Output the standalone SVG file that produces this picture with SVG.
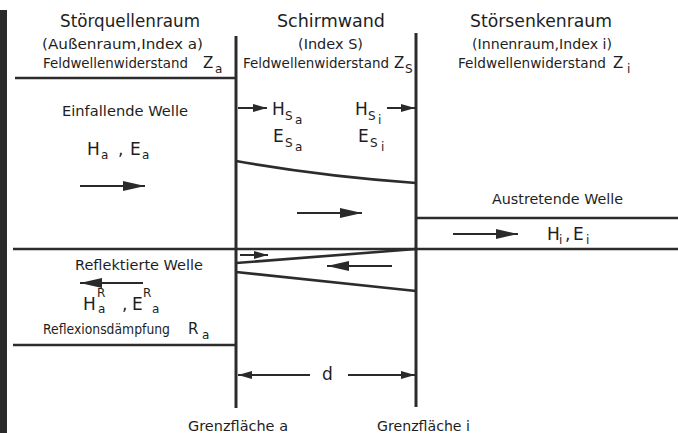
<svg xmlns="http://www.w3.org/2000/svg" width="678" height="433" viewBox="0 0 678 433">
<defs>
<marker id="big" markerUnits="userSpaceOnUse" viewBox="0 0 22 10" refX="22" refY="5" markerWidth="22" markerHeight="10" orient="auto"><path d="M0,0 L22,5 L0,10 Z" fill="#2a2a2a"/></marker>
<marker id="med" markerUnits="userSpaceOnUse" viewBox="0 0 14 8" refX="14" refY="4" markerWidth="14" markerHeight="8" orient="auto"><path d="M0,0 L14,4 L0,8 Z" fill="#2a2a2a"/></marker>
</defs>
<style>
text{font-family:"DejaVu Sans","Liberation Sans",sans-serif;fill:#1e1e1e}
.t{font-size:17px}
.s{font-size:14.5px}
.f{font-size:13.6px}
.z{font-size:15px}
.r{font-size:13.4px}
.v{font-size:17px}
.sub{font-size:12px}
.ln{stroke:#2c2c2c;stroke-width:2.6;fill:none}
.wl{stroke:#2c2c2c;stroke-width:3;fill:none}
.ar{stroke:#2a2a2a;stroke-width:2;fill:none}
</style>
<rect width="678" height="433" fill="#ffffff"/>
<rect x="0" y="10" width="7" height="423" fill="#2a2a2a"/>

<g id="stoerquellenraum">
<path class="ln" d="M15 78 H236 M13 345 H236"/>
<text class="t" x="60" y="27" textLength="140" lengthAdjust="spacingAndGlyphs">Störquellenraum</text>
<text class="s" x="42" y="49" textLength="161" lengthAdjust="spacingAndGlyphs">(Außenraum,Index a)</text>
<text class="f" x="43" y="68" textLength="145" lengthAdjust="spacingAndGlyphs">Feldwellenwiderstand</text>
<text class="z" x="203" y="68">Z</text><text class="sub" x="215" y="73">a</text>
<text class="s" x="62" y="116" textLength="126" lengthAdjust="spacingAndGlyphs">Einfallende Welle</text>
<text class="v" x="87" y="155">H</text><text class="sub" x="101" y="159">a</text>
<text class="v" x="118" y="155">,</text>
<text class="v" x="130" y="155">E</text><text class="sub" x="142" y="159">a</text>
<text class="s" x="75" y="270" textLength="128" lengthAdjust="spacingAndGlyphs">Reflektierte Welle</text>
<text class="v" x="83" y="310">H</text><text class="sub" x="97" y="297">R</text><text class="sub" x="98" y="313">a</text>
<text class="v" x="122" y="310">,</text>
<text class="v" x="132" y="310">E</text><text class="sub" x="143" y="297">R</text><text class="sub" x="152" y="313">a</text>
<text class="r" x="43" y="334" textLength="127" lengthAdjust="spacingAndGlyphs">Reflexionsdämpfung</text>
<text class="z" x="188" y="334">R</text><text class="sub" x="202" y="339">a</text>
</g>

<g id="schirmwand">
<path class="wl" d="M236 36 V408 M416 33 V407"/>
<path class="ln" d="M236 161 Q320 176 416 183"/>
<path class="ln" d="M236 263 L416 249 M236 272 L416 291"/>
<text class="t" x="277" y="27" textLength="108" lengthAdjust="spacingAndGlyphs">Schirmwand</text>
<text class="s" x="298" y="49" textLength="65" lengthAdjust="spacingAndGlyphs">(Index S)</text>
<text class="f" x="243" y="68" textLength="146" lengthAdjust="spacingAndGlyphs">Feldwellenwiderstand</text>
<text class="z" x="394" y="68">Z</text><text class="sub" x="405" y="73">S</text>
<text class="v" x="272" y="115">H</text><text class="sub" x="285" y="120">S</text><text class="sub" x="295" y="124">a</text>
<text class="v" x="273" y="142">E</text><text class="sub" x="285" y="147">S</text><text class="sub" x="295" y="151">a</text>
<text class="v" x="355" y="115">H</text><text class="sub" x="368" y="120">S</text><text class="sub" x="378" y="124">i</text>
<text class="v" x="358" y="142">E</text><text class="sub" x="370" y="147">S</text><text class="sub" x="381" y="151">i</text>
</g>

<g id="stoersenkenraum">
<path class="ln" d="M13 249 H678 M416 218 H678"/>
<text class="t" x="470" y="27" textLength="142" lengthAdjust="spacingAndGlyphs">Störsenkenraum</text>
<text class="s" x="472" y="49" textLength="140" lengthAdjust="spacingAndGlyphs">(Innenraum,Index i)</text>
<text class="f" x="458" y="68" textLength="148" lengthAdjust="spacingAndGlyphs">Feldwellenwiderstand</text>
<text class="z" x="613" y="68">Z</text><text class="sub" x="627" y="73">i</text>
<text class="s" x="492" y="204" textLength="131" lengthAdjust="spacingAndGlyphs">Austretende Welle</text>
<text class="v" x="547" y="240">H</text><text class="sub" x="559" y="244">i</text>
<text class="v" x="565" y="240">,</text>
<text class="v" x="573" y="240">E</text><text class="sub" x="586" y="244">i</text>
</g>

<g id="grenzflaechen">
<text class="s" x="188" y="431" textLength="100" lengthAdjust="spacingAndGlyphs">Grenzfläche a</text>
<text class="s" x="377" y="431" textLength="93" lengthAdjust="spacingAndGlyphs">Grenzfläche i</text>
<text class="v" x="322" y="380">d</text>
</g>

<g id="connectors">
<path class="ar" d="M80 186 H145" marker-end="url(#big)"/>
<path class="ar" d="M143 283 H80" marker-end="url(#big)"/>
<path class="ar" d="M297 213 H362" marker-end="url(#big)"/>
<path class="ar" d="M392 266 H327" marker-end="url(#big)"/>
<path class="ar" d="M453 234 H518" marker-end="url(#big)"/>
<path class="ar" d="M240 255 H268" marker-end="url(#med)"/>
<path class="ar" d="M238 108 H267" marker-end="url(#med)"/>
<path class="ar" d="M387 108 H415" marker-end="url(#med)"/>
<path class="ar" d="M310 375 H238" marker-end="url(#med)"/>
<path class="ar" d="M348 375 H415" marker-end="url(#med)"/>
</g>
</svg>
